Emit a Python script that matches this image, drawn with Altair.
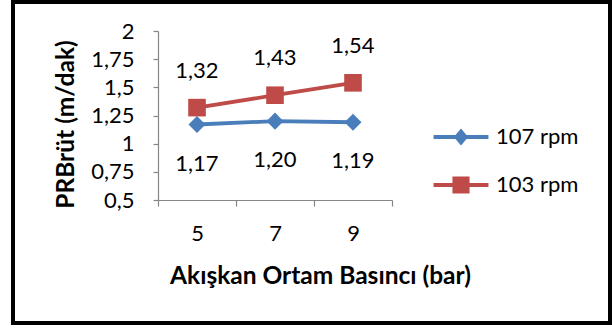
import altair as alt
import pandas as pd

# Fluid medium pressure (bar) on the x axis
pressures = ["5", "7", "9"]
series_names = ["107 rpm", "103 rpm"]
values_107 = [1.17, 1.20, 1.19]
values_103 = [1.32, 1.43, 1.54]
y_ticks = [0.5, 0.75, 1.0, 1.25, 1.5, 1.75, 2.0]

colors = ["#4A7EBB", "#BE4B48"]
FONT = "Lato"

rows = []
for p, v in zip(pressures, values_107):
    rows.append({"basinc": p, "seri": series_names[0], "deger": v})
for p, v in zip(pressures, values_103):
    rows.append({"basinc": p, "seri": series_names[1], "deger": v})
df = pd.DataFrame(rows)

# Legend glyphs: a short line with the series marker in the middle
line_piece = "M-3.05,-0.22L3.05,-0.22L3.05,0.22L-3.05,0.22Z"
legend_shapes = [
    line_piece + "M-0.8,0L0,-0.95L0.8,0L0,0.95Z",
    line_piece + "M-0.95,-0.95L0.95,-0.95L0.95,0.95L-0.95,0.95Z",
]

color_scale = alt.Scale(domain=series_names, range=colors)

x_enc = alt.X(
    "basinc:O",
    sort=pressures,
    bandPosition=0.5,
    scale=alt.Scale(type="band", paddingInner=0, paddingOuter=0),
    axis=alt.Axis(
        title="Akışkan Ortam Basıncı (bar)",
        tickBand="extent",
        labelAngle=0,
        labelFont=FONT,
        labelFontSize=22,
        labelColor="#000000",
        labelPadding=27,
        labelBaseline="middle",
        tickSize=6,
        tickColor="#868686",
        domainColor="#868686",
        tickWidth=1.2,
        domainWidth=1.2,
        titleFont=FONT,
        titleFontSize=24.5,
        titleFontWeight="bold",
        titleColor="#000000",
        titleAnchor="start",
        titleX=162,
        titleY=76,
        titleAlign="center",
        titleBaseline="middle",
    ),
)

y_enc = alt.Y(
    "deger:Q",
    scale=alt.Scale(domain=[0.5, 2.0], nice=False, zero=False),
    axis=alt.Axis(
        title="PRBrüt (m/dak)",
        values=y_ticks,
        labelExpr="replace(format(datum.value, ''), '.', ',')",
        labelFont=FONT,
        labelFontSize=22,
        labelColor="#000000",
        labelPadding=19,
        tickSize=5,
        tickColor="#868686",
        domainColor="#868686",
        tickWidth=1.2,
        domainWidth=1.2,
        grid=False,
        titleFont=FONT,
        titleFontSize=24.5,
        titleFontWeight="bold",
        titleColor="#000000",
        titleAngle=-90,
        titleX=-92,
        titleY=93,
        titleAlign="center",
        titleBaseline="middle",
    ),
)

base = alt.Chart(df).encode(x=x_enc, y=y_enc)

# Invisible layer that only feeds the legend
legend_layer = base.mark_point(filled=True, opacity=1).encode(
    color=alt.Color(
        "seri:N",
        scale=color_scale,
        legend=alt.Legend(
            title=None,
            orient="none",
            legendX=292,
            legendY=95,
            padding=0,
            symbolSize=324,
            symbolStrokeWidth=0,
            labelFont=FONT,
            labelFontSize=22,
            labelColor="#000000",
            labelOffset=24,
            rowPadding=26,
        ),
    ),
    shape=alt.Shape("seri:N", scale=alt.Scale(domain=series_names, range=legend_shapes)),
).transform_filter("false")

lines = base.mark_line(strokeWidth=3.8).encode(
    color=alt.Color("seri:N", scale=color_scale, legend=None)
)

diamonds = base.mark_point(filled=True, opacity=1, shape="diamond", size=290).encode(
    color=alt.Color("seri:N", scale=color_scale, legend=None)
).transform_filter(alt.datum.seri == series_names[0])

squares = base.mark_point(filled=True, opacity=1, shape="square", size=310).encode(
    color=alt.Color("seri:N", scale=color_scale, legend=None)
).transform_filter(alt.datum.seri == series_names[1])

label_calc = "replace(format(datum.deger, '.2f'), '.', ',')"

labels_107 = base.mark_text(font=FONT, fontSize=22, color="#000000", dy=39, baseline="middle").encode(
    text="etiket:N"
).transform_filter(alt.datum.seri == series_names[0]).transform_calculate(etiket=label_calc)

labels_103 = base.mark_text(font=FONT, fontSize=22, color="#000000", dy=-37, baseline="middle").encode(
    text="etiket:N"
).transform_filter(alt.datum.seri == series_names[1]).transform_calculate(etiket=label_calc)

# Chart frame
frame = alt.Chart(alt.Data(values=[{"k": 1}])).mark_rect(
    fillOpacity=0, stroke="#000000", strokeWidth=4
).encode(
    x=alt.value(-145), x2=alt.value(452), y=alt.value(-29), y2=alt.value(292)
)

chart = alt.layer(
    legend_layer, lines, diamonds, squares, labels_107, labels_103, frame
).properties(
    width=234,
    height=169,
    autosize=alt.AutoSizeParams(type="none"),
    padding={"left": 158, "top": 31, "right": 220, "bottom": 129},
    background="#FFFFFF",
).configure_view(strokeWidth=0)

chart.save("out.html", embed_options={"renderer": "svg", "actions": False})
